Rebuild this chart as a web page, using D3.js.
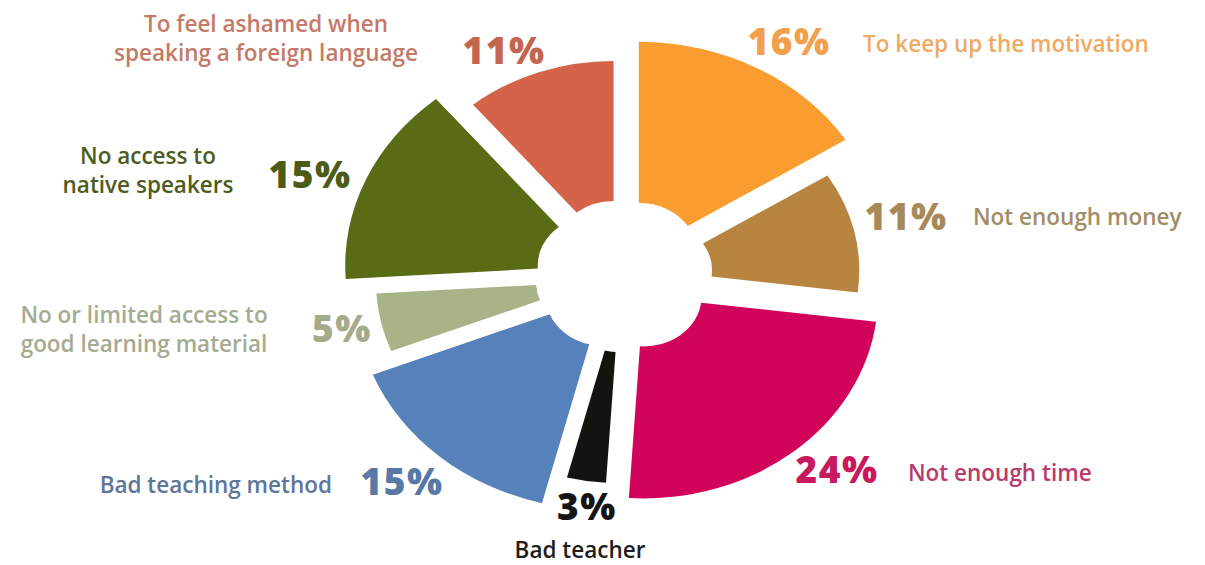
<!DOCTYPE html>
<html>
<head>
<meta charset="utf-8">
<script src="https://cdn.jsdelivr.net/npm/d3@7"></script>
<style>
  html, body { margin: 0; padding: 0; background: #fff; }
  svg { display: block; }
  .pct { font-family: "Open Sans", sans-serif; font-weight: 800; font-size: 37px; letter-spacing: 1.5px; }
  .lbl { font-family: "Open Sans", sans-serif; font-weight: 600; font-size: 22.5px; }
</style>
</head>
<body>
<div id="chart"></div>
<script>
// slices clockwise from 12 o'clock
const categories = [
  "To keep up the motivation",
  "Not enough money",
  "Not enough time",
  "Bad teacher",
  "Bad teaching method",
  "No or limited access to good learning material",
  "No access to native speakers",
  "To feel ashamed when speaking a foreign language"
];
const values = [16, 11, 24, 3, 15, 5, 15, 11];

// label text as it is broken into lines
const labelLines = [
  ["To keep up the motivation"],
  ["Not enough money"],
  ["Not enough time"],
  ["Bad teacher"],
  ["Bad teaching method"],
  ["No or limited access to", "good learning material"],
  ["No access to", "native speakers"],
  ["To feel ashamed when", "speaking a foreign language"]
];

const sliceColors = ["#F99D31", "#B7853F", "#D2035A", "#121410", "#5681BB", "#A8B387", "#5A6B15", "#D4634A"];
const pctColors   = ["#F2A04B", "#A8895A", "#C8195E", "#151515", "#5878A6", "#A4AB8B", "#4C5C18", "#C4654F"];
const textColors  = ["#EFAA63", "#A38D64", "#B93A6C", "#1E1E1E", "#5E7698", "#A5AB91", "#4E5C20", "#C47A68"];

// each wedge has its own reach in the drawing
const outerR = [211, 177, 202, 181, 214, 188, 216, 190];
const innerR = 50;
const explode = 26.5;

// where the percent and the caption sit: [x, y, anchor]
const pctPos = [[789, 55], [906, 230], [837, 483], [587, 520], [402, 495], [342, 342], [310, 188], [504, 64]];
const lblPos = [
  [863, 52, "start"], [973, 225, "start"], [908, 481, "start"], [580, 558, "middle"],
  [332, 493, "end"], [144, 323, "middle"], [148, 164, "middle"], [266, 32, "middle"]
];
const lineGap = 29;

const W = 1205, H = 565;
const svg = d3.select("#chart")
  .append("svg")
  .attr("width", W)
  .attr("height", H);

const pie = d3.pie().sort(null).value(d => d);
const arcs = pie(values);

const arc = d3.arc()
  .innerRadius(innerR)
  .outerRadius((d, i) => outerR[i]);

// the source image is stretched a bit horizontally
const g = svg.append("g")
  .attr("transform", "translate(624,276) scale(1.16,1)");

g.selectAll("path")
  .data(arcs)
  .enter()
  .append("path")
  .attr("d", (d, i) => arc(d, i))
  .attr("fill", (d, i) => sliceColors[i])
  .attr("transform", d => {
    const mid = (d.startAngle + d.endAngle) / 2;
    return `translate(${Math.sin(mid) * explode},${-Math.cos(mid) * explode})`;
  });

// percentages
svg.selectAll("text.pct")
  .data(arcs)
  .enter()
  .append("text")
  .attr("class", "pct")
  .attr("x", (d, i) => pctPos[i][0])
  .attr("y", (d, i) => pctPos[i][1])
  .attr("text-anchor", "middle")
  .attr("fill", (d, i) => pctColors[i])
  .text(d => d.data + "%");

// captions
const lbl = svg.selectAll("text.lbl")
  .data(categories)
  .enter()
  .append("text")
  .attr("class", "lbl")
  .attr("x", (d, i) => lblPos[i][0])
  .attr("y", (d, i) => lblPos[i][1])
  .attr("text-anchor", (d, i) => lblPos[i][2])
  .attr("fill", (d, i) => textColors[i]);

lbl.each(function (d, i) {
  d3.select(this).selectAll("tspan")
    .data(labelLines[i])
    .enter()
    .append("tspan")
    .attr("x", lblPos[i][0])
    .attr("dy", (t, j) => j === 0 ? 0 : lineGap)
    .text(t => t);
});
</script>
</body>
</html>
